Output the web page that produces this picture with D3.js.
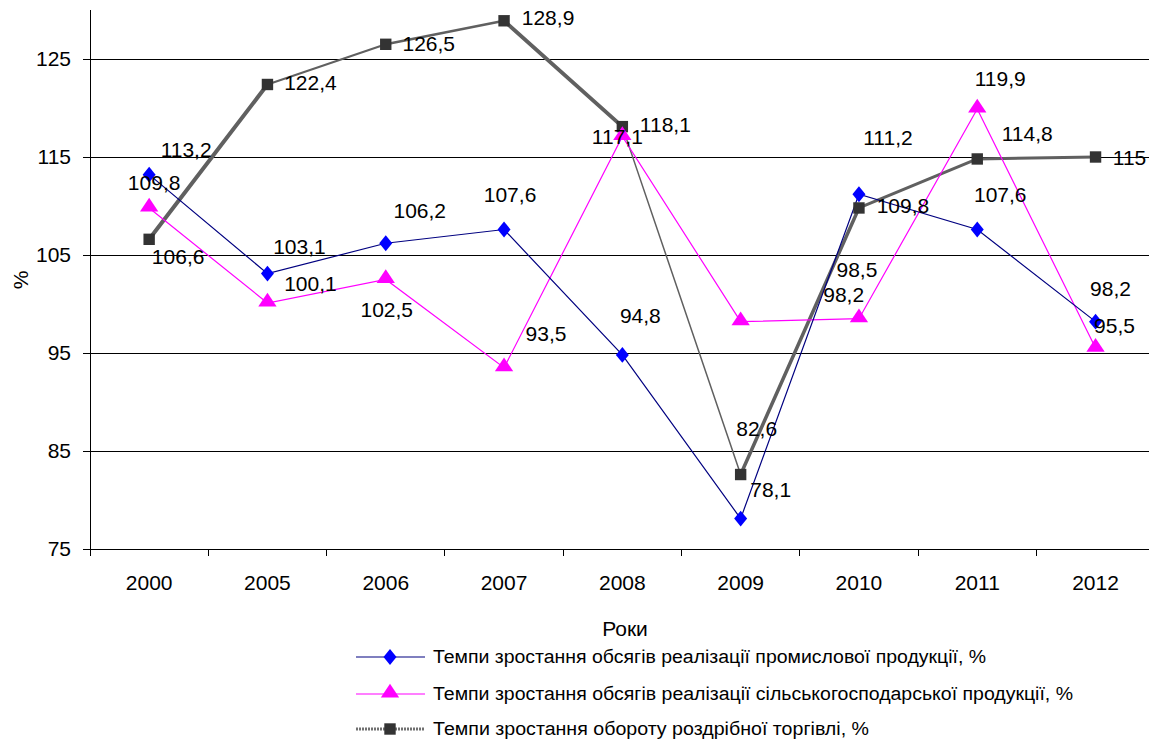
<!DOCTYPE html>
<html><head><meta charset="utf-8">
<script src="https://cdn.jsdelivr.net/npm/d3@7"></script>
<style>
html,body{margin:0;padding:0;background:#fff;}
svg text{font-family:"Liberation Sans",Arial,sans-serif;fill:#000;}
</style></head>
<body>
<svg id="chart" width="1149" height="740"></svg>
<script>
// ---- data ----
const years = ['2000','2005','2006','2007','2008','2009','2010','2011','2012'];
const industrial = [113.2, 103.1, 106.2, 107.6, 94.8, 78.1, 111.2, 107.6, 98.2];
const agriculture = [109.8, 100.1, 102.5, 93.5, 117.1, 98.2, 98.5, 119.9, 95.5];
const retail = [106.6, 122.4, 126.5, 128.9, 118.1, 82.6, 109.8, 114.8, 115];
const yTicks = [75, 85, 95, 105, 115, 125];
const seriesNames = [
  'Темпи зростання обсягів  реалізації промислової продукції, %',
  'Темпи зростання обсягів  реалізації сільськогосподарської продукції, %',
  'Темпи зростання обороту роздрібної торгівлі, %'
];

// ---- layout / style (not data) ----
const labelOffsets = {
  industrial: [[37,-25],[32,-27],[34,-33],[6,-35],[18,-39],[30,-29],[29,-57],[23,-35],[15,-33]],
  agriculture: [[5,-25],[43,-20],[1,30],[42,-34],[-5,0],[103,-27],[-2,-49],[23,-30],[19,-23]],
  retail: [[29,17],[43,-2],[43,-1],[44,-3],[43,-2],[16,-46],[44,-2],[50,-25],[34,0]]
};
const retailSegWidths = [4, 2, 2.5, 4, 1.5, 3.5, 3, 3];

const svg = d3.select('#chart');
const plotLeft = 90, plotBottom = 549, plotTop = 10;
const x = d3.scaleBand().domain(years).range([plotLeft, plotLeft + 9 * 118.3]).padding(0);
const y = d3.scaleLinear().domain([75, 130]).range([plotBottom, plotBottom - 55 * 9.8]);
const cx = d => x(d) + x.bandwidth() / 2;
const fmt = v => String(v).replace('.', ',');

// gridlines
svg.append('g').selectAll('line').data(yTicks.slice(1)).join('line')
  .attr('x1', plotLeft).attr('x2', 1149)
  .attr('y1', d => y(d)).attr('y2', d => y(d))
  .attr('stroke', '#000').attr('stroke-width', 1).attr('shape-rendering', 'crispEdges');

// y axis
const yAxis = d3.axisLeft(y).tickValues(yTicks).tickSize(7).tickPadding(12);
const gy = svg.append('g').attr('transform', `translate(${plotLeft},0)`).call(yAxis);
gy.select('.domain').remove();
gy.append('line').attr('x1', 0).attr('x2', 0).attr('y1', plotTop).attr('y2', plotBottom)
  .attr('stroke', '#000').attr('shape-rendering', 'crispEdges');
gy.selectAll('.tick line').attr('stroke', '#000').attr('shape-rendering', 'crispEdges');
gy.selectAll('.tick text').attr('font-size', 21).attr('fill', '#000')
  .style('font-family', '"Liberation Sans",Arial,sans-serif');

// x axis
const gx = svg.append('g').attr('transform', `translate(0,${plotBottom})`);
gx.append('line').attr('x1', plotLeft).attr('x2', 1149).attr('y1', 0).attr('y2', 0)
  .attr('stroke', '#000').attr('shape-rendering', 'crispEdges');
gx.selectAll('line.tk').data(years).join('line').attr('class', 'tk')
  .attr('x1', d => x(d)).attr('x2', d => x(d)).attr('y1', 0).attr('y2', 7)
  .attr('stroke', '#000').attr('shape-rendering', 'crispEdges');
gx.selectAll('text').data(years).join('text')
  .attr('x', d => cx(d)).attr('y', 33).attr('text-anchor', 'middle')
  .attr('dominant-baseline', 'central').attr('font-size', 21).text(d => d);

// axis titles
svg.append('text').attr('x', 625).attr('y', 628).attr('text-anchor', 'middle')
  .attr('dominant-baseline', 'central').attr('font-size', 21).text('Роки');
svg.append('text').attr('transform', 'translate(20,280) rotate(-90)')
  .attr('text-anchor', 'middle').attr('dominant-baseline', 'central')
  .attr('font-size', 21).text('%');

// lines
const pts = arr => arr.map((v, i) => [cx(years[i]), y(v)]);
const line = d3.line();
const rp = pts(retail);
svg.append('g').selectAll('line').data(rp.slice(1)).join('line')
  .attr('x1', (d, i) => rp[i][0]).attr('y1', (d, i) => rp[i][1])
  .attr('x2', d => d[0]).attr('y2', d => d[1])
  .attr('stroke', '#606060').attr('stroke-width', (d, i) => retailSegWidths[i])
  .attr('stroke-linecap', 'round');
svg.append('path').attr('d', line(pts(agriculture))).attr('fill', 'none')
  .attr('stroke', '#FF00FF').attr('stroke-width', 1.2);
svg.append('path').attr('d', line(pts(industrial))).attr('fill', 'none')
  .attr('stroke', '#000080').attr('stroke-width', 1.2);

// markers
const sq = d3.symbol().type(d3.symbolSquare).size(130);
const tri = d3.symbol().type(d3.symbolTriangle).size(110);
const dia = d3.symbol().type(d3.symbolDiamond).size(80);
svg.append('g').selectAll('path').data(rp).join('path')
  .attr('d', sq).attr('transform', d => `translate(${d[0]},${d[1]})`).attr('fill', '#333');
svg.append('g').selectAll('path').data(pts(agriculture)).join('path')
  .attr('d', tri).attr('transform', d => `translate(${d[0]},${d[1] - 1}) scale(1.15,1)`).attr('fill', '#FF00FF');
svg.append('g').selectAll('path').data(pts(industrial)).join('path')
  .attr('d', dia).attr('transform', d => `translate(${d[0]},${d[1]}) scale(1.35,0.95)`).attr('fill', '#0000FF');

// data labels
function labels(arr, offs) {
  svg.append('g').selectAll('text').data(arr).join('text')
    .attr('x', (d, i) => cx(years[i]) + offs[i][0])
    .attr('y', (d, i) => y(d) + offs[i][1])
    .attr('text-anchor', 'middle').attr('dominant-baseline', 'central')
    .attr('font-size', 21).text(d => fmt(d));
}
labels(retail, labelOffsets.retail);
labels(agriculture, labelOffsets.agriculture);
labels(industrial, labelOffsets.industrial);

// legend
const legY = [657, 694, 729];
const legEnd = [986, 1073, 869];
const lg = svg.append('g');
lg.append('line').attr('x1', 356).attr('x2', 425).attr('y1', legY[0]).attr('y2', legY[0]).attr('stroke', '#000080').attr('stroke-width', 1.2);
lg.append('line').attr('x1', 356).attr('x2', 425).attr('y1', legY[1]).attr('y2', legY[1]).attr('stroke', '#FF00FF').attr('stroke-width', 1.2);
lg.append('line').attr('x1', 356).attr('x2', 425).attr('y1', legY[2]).attr('y2', legY[2]).attr('stroke', '#707070').attr('stroke-width', 3).attr('stroke-dasharray', '2,1');
lg.append('path').attr('d', dia).attr('transform', `translate(390,${legY[0]}) scale(1.35,0.95)`).attr('fill', '#0000FF');
lg.append('path').attr('d', tri).attr('transform', `translate(390,${legY[1] - 1}) scale(1.15,1)`).attr('fill', '#FF00FF');
lg.append('path').attr('d', sq).attr('transform', `translate(390,${legY[2]})`).attr('fill', '#333');
lg.selectAll('text').data(seriesNames).join('text')
  .attr('x', 433).attr('y', (d, i) => legY[i]).attr('dominant-baseline', 'central')
  .attr('font-size', 18)
  .attr('textLength', (d, i) => legEnd[i] - 433).attr('lengthAdjust', 'spacingAndGlyphs')
  .text(d => d);
</script>
</body></html>
